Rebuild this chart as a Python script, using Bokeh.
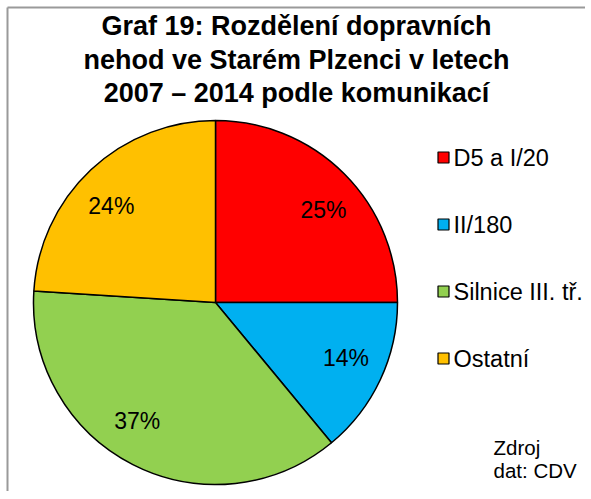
import numpy as np
from bokeh.plotting import figure
from bokeh.models import Range1d, ColumnDataSource
from bokeh.core.properties import value
from bokeh.embed import file_html
from bokeh.resources import INLINE

title_lines = ["Graf 19: Rozdělení dopravních",
               "nehod ve Starém Plzenci v letech",
               "2007 – 2014 podle komunikací"]
categories = ["D5 a I/20", "II/180", "Silnice III. tř."
              , "Ostatní"]
shares = [25, 14, 37, 24]
colors = ["#FF0000", "#00B0F0", "#92D050", "#FFC000"]
source_lines = ["Zdroj", "dat: CDV"]

# label placement style (radius fraction, angular nudge in degrees, clockwise)
label_radius_frac = 0.78
label_angle_nudge = [4.5, -2.0, 6.5, -4.0]

W, H = 585, 491
FONT = "Liberation Sans"


def Y(py):
    """page-pixel y (from top) -> data y"""
    return H - py


p = figure(width=W, height=H, x_range=Range1d(0, W), y_range=Range1d(0, H),
           x_axis_type=None, y_axis_type=None, output_backend="svg",
           toolbar_location=None, min_border=0, outline_line_color=None)
p.background_fill_color = "white"
p.border_fill_color = "white"

# chart border (left and top edges visible)
p.segment(x0=[7, 7], y0=[0, Y(7)], x1=[7, W], y1=[Y(7), Y(7)],
          line_color="#9a9a9a", line_width=2)

# pie
cx, cy, r = 215, Y(302), 182
vals = np.array(shares, dtype=float)
cum = np.cumsum(vals) / vals.sum()
prev = cum - vals / vals.sum()
start = np.pi / 2 - 2 * np.pi * prev
end = np.pi / 2 - 2 * np.pi * cum
src = ColumnDataSource(dict(start=start, end=end, color=colors, cat=categories))
p.wedge(x=cx, y=cy, radius=r, start_angle="start", end_angle="end",
        direction="clock", fill_color="color", line_color="black",
        line_width=1.5, source=src)

mid = (start + end) / 2 - np.radians(label_angle_nudge)
lr = label_radius_frac * r
p.text(x=cx + lr * np.cos(mid), y=cy + lr * np.sin(mid),
       text=[f"{int(v)}%" for v in shares], text_font=value(FONT),
       text_font_size="23px", text_align="center", text_baseline="middle",
       text_color="black")

# title
p.text(x=[296] * 3, y=[Y(25), Y(59), Y(92)], text=title_lines,
       text_font=value(FONT), text_font_style="bold", text_font_size="27px",
       text_align="center", text_baseline="middle", text_color="black")

# legend
ly = [Y(157), Y(224), Y(291), Y(358)]
p.scatter(x=[443] * 4, y=ly, marker="square", size=11, fill_color=colors,
          line_color="black", line_width=1.2)
p.text(x=[453] * 4, y=ly, text=categories, text_font=value(FONT),
       text_font_size="23.5px", text_align="left", text_baseline="middle",
       text_color="black")

# source note
p.text(x=[493, 493], y=[Y(447), Y(470)], text=source_lines,
       text_font=value(FONT), text_font_size="20.5px", text_align="left",
       text_baseline="middle", text_color="black")

open("out.html", "w").write(file_html(p, INLINE))
